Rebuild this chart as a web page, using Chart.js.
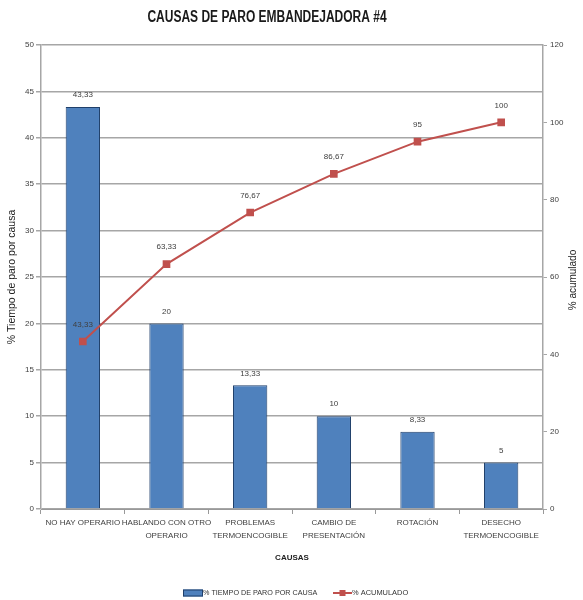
<!DOCTYPE html>
<html>
<head>
<meta charset="utf-8">
<script src="https://cdn.jsdelivr.net/npm/chart.js@4"></script>
<style>
html,body{margin:0;padding:0;background:#fff;}
#wrap{width:583px;height:600px;position:relative;}
</style>
</head>
<body>
<div id="wrap"><canvas id="c" width="583" height="600"></canvas></div>
<script>
const categories = [
  ["NO HAY OPERARIO"],
  ["HABLANDO CON OTRO", "OPERARIO"],
  ["PROBLEMAS", "TERMOENCOGIBLE"],
  ["CAMBIO DE", "PRESENTACIÓN"],
  ["ROTACIÓN"],
  ["DESECHO", "TERMOENCOGIBLE"]
];
const tiempoParo = [43.33, 20, 13.33, 10, 8.33, 5];
const acumulado = [43.33, 63.33, 76.67, 86.67, 95, 100];
const leftTicks = [0, 5, 10, 15, 20, 25, 30, 35, 40, 45, 50];
const rightTicks = [0, 20, 40, 60, 80, 100, 120];
const chartTitle = 'CAUSAS DE PARO EMBANDEJADORA #4';

const FONT = "'Liberation Sans', Arial, sans-serif";
const BLUE = '#4F81BD';
const RED = '#C0504D';
const TXT = '#404040';

function fmt(v) { return String(v).replace('.', ','); }

const labelsPlugin = {
  id: 'valueLabels',
  afterDatasetsDraw(chart) {
    const ctx = chart.ctx;
    ctx.save();
    ctx.font = '8px ' + FONT;
    ctx.fillStyle = TXT;
    ctx.textAlign = 'center';
    ctx.textBaseline = 'middle';
    chart.data.datasets.forEach((ds, di) => {
      const meta = chart.getDatasetMeta(di);
      const isBar = ds.type === 'bar';
      meta.data.forEach((el, i) => {
        ctx.fillText(fmt(ds.data[i]), el.x, el.y - (isBar ? 12 : 17));
      });
    });
    ctx.restore();
  }
};

const extrasPlugin = {
  id: 'extras',
  afterDraw(chart) {
    const ctx = chart.ctx;
    const ca = chart.chartArea;
    // title (condensed look)
    ctx.save();
    ctx.font = 'bold 16px ' + FONT;
    ctx.fillStyle = '#1a1a1a';
    ctx.textAlign = 'center';
    ctx.textBaseline = 'middle';
    ctx.translate(267, 18);
    ctx.scale(0.75, 1);
    ctx.fillText(chartTitle, 0, 0);
    ctx.restore();

    // right axis title, reading bottom-to-top
    ctx.save();
    ctx.font = '10.5px ' + FONT;
    ctx.fillStyle = '#222';
    ctx.textAlign = 'center';
    ctx.textBaseline = 'middle';
    ctx.translate(573, 280);
    ctx.rotate(-Math.PI / 2);
    ctx.scale(0.95, 1);
    ctx.fillText('% acumulado', 0, 0);
    ctx.restore();

    // legend
    ctx.save();
    const y = 593;
    ctx.font = '8px ' + FONT;
    ctx.textBaseline = 'middle';
    ctx.textAlign = 'left';
    ctx.fillStyle = BLUE;
    ctx.fillRect(183, y - 3.5, 20, 7);
    ctx.strokeStyle = '#1F3F6A';
    ctx.lineWidth = 1;
    ctx.strokeRect(183.5, y - 3, 19, 6);
    ctx.fillStyle = '#333';
    ctx.save();
    ctx.translate(203, y);
    ctx.scale(0.9, 1);
    ctx.fillText('% TIEMPO DE PARO POR CAUSA', 0, 0);
    ctx.restore();
    ctx.strokeStyle = RED;
    ctx.lineWidth = 2;
    ctx.beginPath();
    ctx.moveTo(333, y);
    ctx.lineTo(352, y);
    ctx.stroke();
    ctx.fillStyle = RED;
    ctx.fillRect(339.5, y - 3, 6, 6);
    ctx.fillStyle = '#333';
    ctx.save();
    ctx.translate(352, y);
    ctx.scale(0.93, 1);
    ctx.fillText('% ACUMULADO', 0, 0);
    ctx.restore();
    ctx.restore();
  }
};

new Chart(document.getElementById('c'), {
  data: {
    labels: categories,
    datasets: [
      {
        type: 'line',
        label: '% ACUMULADO',
        data: acumulado,
        yAxisID: 'y2',
        borderColor: RED,
        backgroundColor: RED,
        borderWidth: 2,
        pointStyle: 'rect',
        pointRadius: 4,
        pointBackgroundColor: RED,
        pointBorderColor: RED,
        tension: 0,
        order: 0
      },
      {
        type: 'bar',
        label: '% TIEMPO DE PARO POR CAUSA',
        data: tiempoParo,
        yAxisID: 'y',
        backgroundColor: BLUE,
        borderColor: '#1F3F6A',
        borderWidth: 1,
        barPercentage: 0.41,
        categoryPercentage: 1,
        order: 1
      }
    ]
  },
  plugins: [labelsPlugin, extrasPlugin],
  options: {
    responsive: false,
    animation: false,
    devicePixelRatio: 1,
    layout: { padding: { top: 45, bottom: 31, left: 0, right: 0 } },
    plugins: {
      legend: { display: false },
      tooltip: { enabled: false },
      title: { display: false }
    },
    scales: {
      x: {
        type: 'category',
        offset: true,
        grid: { display: true, drawOnChartArea: false, drawTicks: true, tickLength: 5, offset: true, color: '#999' },
        border: { display: true, color: '#999', width: 1 },
        ticks: {
          color: TXT,
          font: { family: FONT, size: 8, lineHeight: 1.55 },
          padding: 3,
          maxRotation: 0,
          autoSkip: false
        },
        title: {
          display: true,
          text: 'CAUSAS',
          color: '#222',
          font: { family: FONT, size: 8, weight: 'bold' },
          padding: { top: 0, bottom: 6 }
        },
        afterFit(s) { s.height = 60; }
      },
      y: {
        position: 'left',
        min: 0, max: 50,
        afterBuildTicks(s) { s.ticks = leftTicks.map(v => ({ value: v })); },
        grid: { color: '#a6a6a6', lineWidth: 1.5, tickLength: 5, drawTicks: true },
        border: { display: true, color: '#a6a6a6', width: 1.5 },
        ticks: { color: TXT, font: { family: FONT, size: 8 }, padding: 2 },
        title: {
          display: true,
          text: '% Tiempo de paro por causa',
          color: '#222',
          font: { family: FONT, size: 10.5 },
          padding: { top: 6, bottom: 0 }
        },
        afterFit(s) { s.width = 41; }
      },
      y2: {
        position: 'right',
        min: 0, max: 120,
        afterBuildTicks(s) { s.ticks = rightTicks.map(v => ({ value: v })); },
        grid: { drawOnChartArea: false, color: '#a6a6a6', tickLength: 4 },
        border: { display: true, color: '#a6a6a6', width: 1.5 },
        ticks: { color: TXT, font: { family: FONT, size: 8 }, padding: 3 },
        afterFit(s) { s.width = 40; }
      }
    }
  }
});
</script>
</body>
</html>
